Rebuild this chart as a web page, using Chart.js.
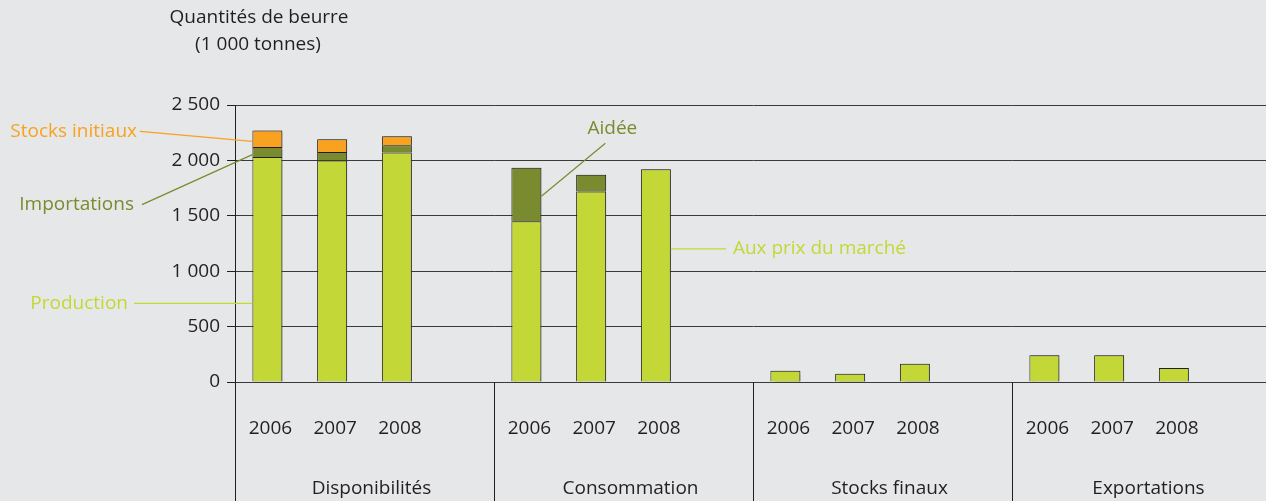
<!DOCTYPE html>
<html>
<head>
<meta charset="utf-8">
<script src="https://cdn.jsdelivr.net/npm/chart.js@4/dist/chart.umd.min.js"></script>
<style>
  html, body { margin: 0; padding: 0; background: #e6e7e8; overflow: hidden; }
  #wrap { width: 1271px; height: 501px; }
</style>
</head>
<body>
<div id="wrap"><canvas id="butterChart" width="1271" height="501"></canvas></div>
<script>
const groups = ["Disponibilités", "Consommation", "Stocks finaux", "Exportations"];
const years = ["2006", "2007", "2008"];
const yTicks = [0, 500, 1000, 1500, 2000, 2500];

// production / aux prix du marché / stocks finaux / exportations
const baseValues = [2030, 2000, 2072, 1450, 1720, 1921, 102, 75, 165, 241, 241, 126];
// importations / aidée
const middleValues = [90, 75, 65, 483, 150, 0, 0, 0, 0, 0, 0, 0];
// stocks initiaux
const topValues = [150, 115, 80, 0, 0, 0, 0, 0, 0, 0, 0, 0];

const LIME = "#c3d836";
const OLIVE = "#7a8a2f";
const ORANGE = "#f8a21f";
const INK = "#231f20";
const FONT = "'Open Sans', sans-serif";
const FS = 19;

// 4 slots per group: 3 years + 1 empty spacer
const labels = [];
const toSlots = (arr) => {
  const out = [];
  groups.forEach((g, gi) => {
    years.forEach((y, yi) => out.push(arr[gi * 3 + yi] || null));
    out.push(null);
  });
  return out;
};
groups.forEach(() => {
  years.forEach((y) => labels.push(y));
  labels.push("");
});

const slotOf = (gi, yi) => gi * 4 + yi;

const barShadow = {
  id: "barShadow",
  beforeDatasetsDraw(chart) {
    const ctx = chart.ctx;
    ctx.save();
    ctx.shadowColor = "rgba(60,60,60,0.45)";
    ctx.shadowOffsetX = 2;
    ctx.shadowOffsetY = 0;
    ctx.shadowBlur = 1;
  },
  afterDatasetsDraw(chart) {
    chart.ctx.restore();
  },
};

const decorations = {
  id: "decorations",
  afterDraw(chart) {
    const ctx = chart.ctx;
    const x = chart.scales.x;
    const y = chart.scales.y;
    const area = chart.chartArea;
    const H = chart.height;

    // group separators and group names
    ctx.save();
    ctx.strokeStyle = INK;
    ctx.lineWidth = 1;
    const edge = (slot) =>
      slot === 0
        ? area.left
        : (x.getPixelForValue(slot - 1) + x.getPixelForValue(slot)) / 2;
    ctx.font = FS + "px " + FONT;
    ctx.fillStyle = INK;
    ctx.textAlign = "center";
    ctx.textBaseline = "middle";
    groups.forEach((g, gi) => {
      const left = edge(gi * 4);
      const right = gi === groups.length - 1 ? area.right : edge(gi * 4 + 4);
      ctx.beginPath();
      ctx.moveTo(Math.round(left) + 0.5, area.bottom);
      ctx.lineTo(Math.round(left) + 0.5, H);
      ctx.stroke();
      ctx.fillText(g, (left + right) / 2 + 7, 489);
    });

    // axis title
    ctx.fillText("Quantités de beurre", area.left + 24, 18);
    ctx.fillText("(1 000 tonnes)", area.left + 23, 45);

    // leader labels
    const halfBar = 15;
    const label = (text, color, tx, ty, align, x1, y1, x2, y2) => {
      ctx.strokeStyle = color;
      ctx.lineWidth = 1.2;
      ctx.beginPath();
      ctx.moveTo(x1, y1);
      ctx.lineTo(x2, y2);
      ctx.stroke();
      ctx.fillStyle = color;
      ctx.textAlign = align;
      ctx.font = FS + "px " + FONT;
      ctx.fillText(text, tx, ty);
    };
    const d0 = x.getPixelForValue(slotOf(0, 0)) - halfBar;
    const stY = y.getPixelForValue(baseValues[0] + middleValues[0] + topValues[0] * 0.35);
    label("Stocks initiaux", ORANGE, 137, stY - 10, "right", 140, stY - 10, d0, stY);
    const imY = y.getPixelForValue(baseValues[0] + middleValues[0] * 0.25);
    label("Importations", OLIVE, 134, imY + 50, "right", 142, imY + 50, d0, imY);
    const prY = y.getPixelForValue(baseValues[0] * 0.35);
    label("Production", LIME, 128, prY, "right", 134, prY, d0, prY);
    const c0 = x.getPixelForValue(slotOf(1, 0)) + halfBar;
    const aiY = y.getPixelForValue(baseValues[3] + middleValues[3] * 0.47);
    label("Aidée", OLIVE, c0 + 71, aiY - 68, "center", c0 + 64, aiY - 53, c0, aiY);
    const c2 = x.getPixelForValue(slotOf(1, 2)) + halfBar;
    const mkY = y.getPixelForValue(baseValues[5] * 0.625);
    label("Aux prix du marché", LIME, c2 + 62, mkY, "left", c2, mkY, c2 + 55, mkY);
    ctx.restore();
  },
};

const makeSet = (name, values, color) => ({
  label: name,
  data: toSlots(values),
  backgroundColor: color,
  borderColor: INK,
  borderWidth: 1,
  borderSkipped: "start",
  categoryPercentage: 1,
  barPercentage: 0.463,
});

new Chart(document.querySelector("#butterChart"), {
  type: "bar",
  data: {
    labels: labels,
    datasets: [
      makeSet("Production / Aux prix du marché", baseValues, LIME),
      makeSet("Importations / Aidée", middleValues, OLIVE),
      makeSet("Stocks initiaux", topValues, ORANGE),
    ],
  },
  options: {
    responsive: false,
    animation: false,
    layout: { padding: { top: 105, right: 0, left: 0, bottom: 0 } },
    plugins: {
      legend: { display: false },
      tooltip: { enabled: false },
      title: { display: false },
    },
    scales: {
      x: {
        stacked: true,
        grid: { display: false },
        border: { display: false },
        ticks: {
          color: INK,
          font: { family: FONT, size: FS },
          padding: 27,
          labelOffset: 3,
          maxRotation: 0,
          autoSkip: false,
        },
        afterFit: (axis) => { axis.height = 119; },
      },
      y: {
        stacked: true,
        min: 0,
        max: 2500,
        afterBuildTicks: (axis) => { axis.ticks = yTicks.map((v) => ({ value: v })); },
        grid: { color: "#3a3a3a", lineWidth: 1, tickLength: 8, tickColor: INK },
        border: { color: INK, width: 1 },
        ticks: {
          color: INK,
          font: { family: FONT, size: FS },
          padding: 7,
          callback: (v) => String(v).replace(/\B(?=(\d{3})+(?!\d))/g, " "),
        },
        afterFit: (axis) => { axis.width = 235; },
      },
    },
  },
  plugins: [barShadow, decorations],
});
</script>
</body>
</html>
